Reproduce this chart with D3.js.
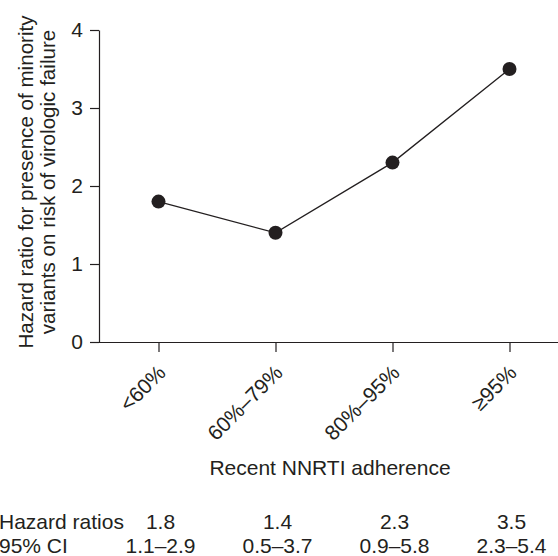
<!DOCTYPE html>
<html>
<head>
<meta charset="utf-8">
<script src="https://cdn.jsdelivr.net/npm/d3@7"></script>
<style>
  body { margin: 0; background: #fff; }
  svg text { font-family: "Liberation Sans", Arial, Helvetica, sans-serif; fill: #231f20; }
</style>
</head>
<body>
<svg id="chart"></svg>
<script>
// data
var categories = ['<60%', '60%\u201379%', '80%\u201395%', '\u226595%'];
var hazardRatios = [1.8, 1.4, 2.3, 3.5];
var ciLabels = ['1.1\u20132.9', '0.5\u20133.7', '0.9\u20135.8', '2.3\u20135.4'];
var yTicks = [0, 1, 2, 3, 4];

var W = 558, H = 556;
var ink = '#231f20';
var fontFam = '"Liberation Sans", Arial, Helvetica, sans-serif';

var svg = d3.select('#chart')
    .attr('width', W)
    .attr('height', H);

var x = d3.scalePoint()
    .domain(categories)
    .range([100, 568])
    .padding(0.5);

var y = d3.scaleLinear()
    .domain([0, 4])
    .range([342, 30]);

// y axis
var yAxis = svg.append('g')
    .attr('transform', 'translate(99,0)')
    .call(d3.axisLeft(y).tickValues(yTicks).tickFormat(d3.format('d'))
        .tickSize(9).tickPadding(7).tickSizeOuter(0));
yAxis.select('.domain').attr('stroke', ink).attr('stroke-width', 1.2);
yAxis.selectAll('.tick line').attr('stroke', ink).attr('stroke-width', 1.2);
yAxis.selectAll('.tick text')
    .attr('font-size', 21)
    .attr('font-family', fontFam)
    .attr('fill', ink);

// x axis line + ticks
var xAxis = svg.append('g')
    .attr('transform', 'translate(0,342)')
    .call(d3.axisBottom(x).tickSize(10).tickSizeOuter(0));
xAxis.select('.domain').attr('d', 'M99,0.5H558').attr('stroke', ink).attr('stroke-width', 1.2);
xAxis.selectAll('.tick line').attr('stroke', ink).attr('stroke-width', 1.2);
xAxis.selectAll('.tick text')
    .attr('font-size', 21)
    .attr('font-family', fontFam)
    .attr('fill', ink)
    .attr('text-anchor', 'end')
    .attr('dy', null)
    .attr('y', null)
    .attr('transform', 'translate(8,32) rotate(-45)');

// line + points
var line = d3.line()
    .x(function(d, i) { return x(categories[i]); })
    .y(function(d) { return y(d); });

svg.append('path')
    .datum(hazardRatios)
    .attr('d', line)
    .attr('fill', 'none')
    .attr('stroke', ink)
    .attr('stroke-width', 1.3);

svg.selectAll('circle.pt')
    .data(hazardRatios)
    .enter()
    .append('circle')
    .attr('class', 'pt')
    .attr('cx', function(d, i) { return x(categories[i]); })
    .attr('cy', function(d) { return y(d); })
    .attr('r', 7)
    .attr('fill', ink);

// axis titles
svg.append('text')
    .attr('transform', 'translate(0,182) rotate(-90)')
    .attr('text-anchor', 'middle')
    .attr('font-size', 20.6)
    .selectAll('tspan')
    .data(['Hazard ratio for presence of minority', 'variants on risk of virologic failure'])
    .enter()
    .append('tspan')
    .attr('x', 0)
    .attr('y', function(d, i) { return 33 + i * 22; })
    .text(function(d) { return d; });

svg.append('text')
    .attr('x', 330)
    .attr('y', 475)
    .attr('text-anchor', 'middle')
    .attr('font-size', 21)
    .text('Recent NNRTI adherence');

// table under the chart
svg.append('text').attr('x', -1).attr('y', 529).attr('font-size', 21).text('Hazard ratios');
svg.append('text').attr('x', -1).attr('y', 553).attr('font-size', 21).text('95% CI');

svg.selectAll('text.hr')
    .data(hazardRatios)
    .enter()
    .append('text')
    .attr('class', 'hr')
    .attr('x', function(d, i) { return x(categories[i]) + 2; })
    .attr('y', 529)
    .attr('text-anchor', 'middle')
    .attr('font-size', 21)
    .text(function(d) { return d3.format('.1f')(d); });

svg.selectAll('text.ci')
    .data(ciLabels)
    .enter()
    .append('text')
    .attr('class', 'ci')
    .attr('x', function(d, i) { return x(categories[i]) + 2; })
    .attr('y', 553)
    .attr('text-anchor', 'middle')
    .attr('font-size', 21)
    .text(function(d) { return d; });
</script>
</body>
</html>
